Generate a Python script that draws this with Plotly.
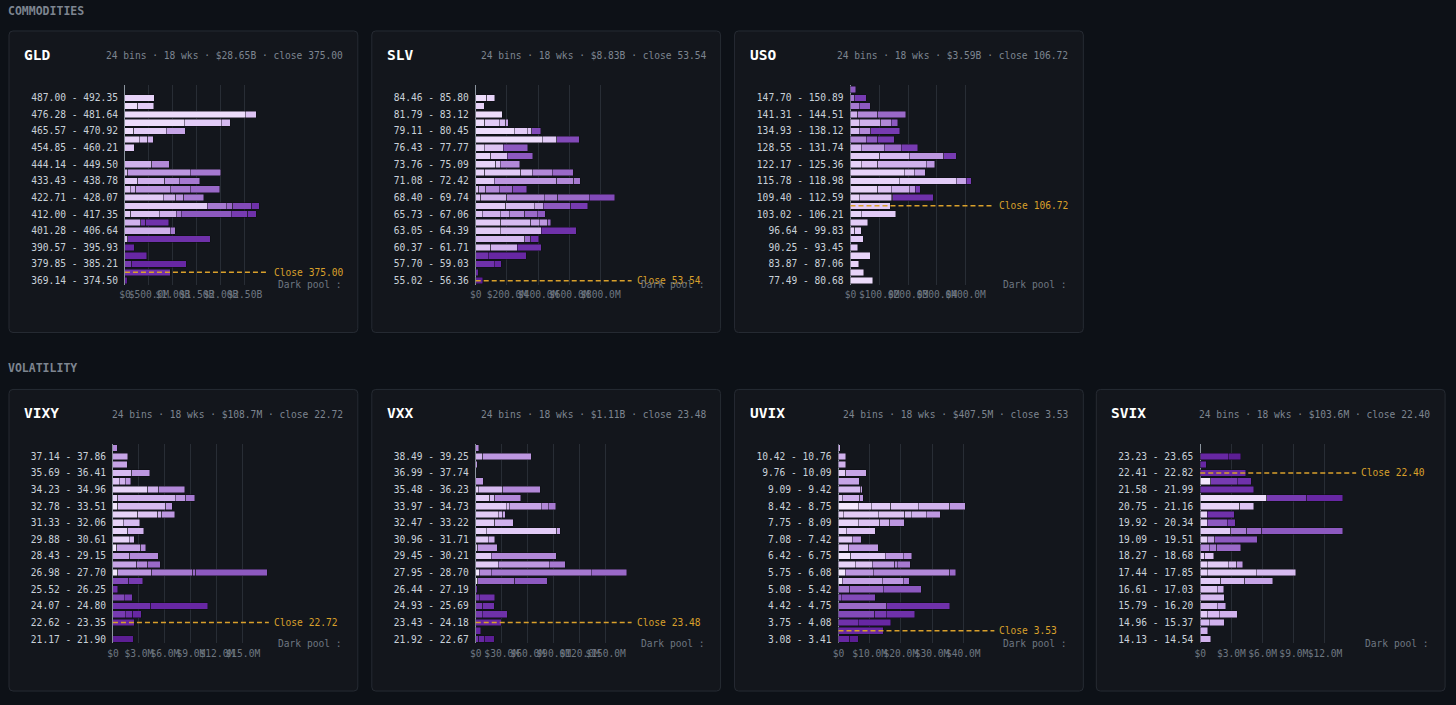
import plotly.graph_objects as go

W, H = 1456, 705
BG = "#0d1117"
PANEL_BG = "#13161c"
PANEL_BORDER = "#262b33"
GRID = "#282d35"
FONT = "DejaVu Sans Mono"
ORANGE = "#d9a02b"

# ---------------- data (values in $M, bins listed top -> bottom, 24 each) ----------------
# each bin: list of (week index 0..17, dollar value in $M)
gld_labels = ["369.14 - 374.50", "379.85 - 385.21", "390.57 - 395.93", "401.28 - 406.64",
              "412.00 - 417.35", "422.71 - 428.07", "433.43 - 438.78", "444.14 - 449.50",
              "454.85 - 460.21", "465.57 - 470.92", "476.28 - 481.64", "487.00 - 492.35"]
gld_bins = [
    [],
    [(2, 613)],
    [(1, 264), (3, 334)],
    [(1, 2506), (4, 230)],
    [(1, 1239), (3, 766), (5, 188)],
    [(1, 181), (3, 675), (7, 404)],
    [(2, 299), (4, 174), (6, 118)],
    [(3, 195)],
    [],
    [(6, 557), (9, 369)],
    [(4, 56), (8, 1308), (10, 633)],
    [(3, 264), (6, 571), (8, 299), (10, 425)],
    [(4, 111), (6, 118), (8, 717), (10, 418), (11, 612)],
    [(3, 800), (6, 264), (8, 160), (10, 418)],
    [(3, 1712), (10, 397), (11, 139), (13, 397), (15, 160)],
    [(3, 125), (4, 592), (6, 348), (10, 104), (12, 1044), (14, 348), (15, 174)],
    [(6, 334), (14, 104), (15, 473)],
    [(6, 940), (10, 111)],
    [(4, 56), (15, 1726)],
    [(16, 195)],
    [(16, 459)],
    [(14, 139), (16, 1134)],
    [(15, 940)],
    [(17, 49)],
]

slv_labels = ["55.02 - 56.36", "57.70 - 59.03", "60.37 - 61.71", "63.05 - 64.39",
              "65.73 - 67.06", "68.40 - 69.74", "71.08 - 72.42", "73.76 - 75.09",
              "76.43 - 77.77", "79.11 - 80.45", "81.79 - 83.12", "84.46 - 85.80"]
slv_bins = [
    [],
    [(1, 71), (2, 51)],
    [(2, 54)],
    [(1, 169)],
    [(1, 58), (3, 92), (5, 43), (7, 15)],
    [(1, 246), (3, 86), (4, 26), (13, 60)],
    [(1, 428), (3, 92), (13, 143)],
    [(2, 54), (4, 124), (12, 156)],
    [(2, 96), (4, 107), (12, 163)],
    [(2, 128), (4, 28), (9, 126)],
    [(2, 58), (3, 231), (5, 75), (9, 128), (11, 133)],
    [(3, 118), (8, 403), (9, 107), (10, 41)],
    [(4, 21), (7, 43), (9, 86), (11, 86), (13, 92)],
    [(4, 32), (6, 167), (9, 240), (10, 86), (11, 203), (13, 163)],
    [(3, 193), (5, 182), (7, 58), (12, 178), (14, 107)],
    [(4, 43), (6, 113), (7, 58), (9, 101), (11, 81), (12, 49)],
    [(3, 161), (5, 193), (7, 54), (8, 54), (11, 19)],
    [(3, 156), (5, 265), (15, 223)],
    [(5, 315), (11, 39), (15, 49)],
    [(4, 96), (6, 171), (15, 152)],
    [(15, 79), (16, 244)],
    [(15, 118), (16, 45)],
    [(16, 15)],
    [(17, 45)],
]

uso_labels = ["77.49 - 80.68", "83.87 - 87.06", "90.25 - 93.45", "96.64 - 99.83",
              "103.02 - 106.21", "109.40 - 112.59", "115.78 - 118.98", "122.17 - 125.36",
              "128.55 - 131.74", "134.93 - 138.12", "141.31 - 144.51", "147.70 - 150.89"]
uso_bins = [
    [(12, 18.5)],
    [(10, 14), (14, 40)],
    [(10, 31), (12, 37)],
    [(6, 25), (9, 69), (11, 98)],
    [(4, 31), (6, 75), (9, 35), (12, 24)],
    [(5, 31), (9, 40), (14, 101)],
    [(9, 54), (12, 40), (14, 58)],
    [(5, 37), (8, 81), (11, 58), (14, 58)],
    [(3, 101), (5, 104), (8, 119), (14, 44)],
    [(2, 37), (4, 58), (6, 168), (8, 30)],
    [(2, 187), (4, 35), (7, 38)],
    [(2, 170), (3, 197), (7, 35), (14, 17)],
    [(2, 95), (4, 46), (6, 64), (8, 20), (14, 17)],
    [(2, 31), (4, 110), (7, 6), (15, 140)],
    [(3, 139)],
    [(2, 37), (3, 120)],
    [(3, 60)],
    [(2, 14), (3, 23)],
    [(3, 44)],
    [(3, 25)],
    [(2, 69)],
    [(2, 28)],
    [(2, 46)],
    [(1, 77)],
]

vixy_labels = ["21.17 - 21.90", "22.62 - 23.35", "24.07 - 24.80", "25.52 - 26.25",
               "26.98 - 27.70", "28.43 - 29.15", "29.88 - 30.61", "31.33 - 32.06",
               "32.78 - 33.51", "34.23 - 34.96", "35.69 - 36.41", "37.14 - 37.86"]
vixy_bins = [
    [(9, 0.5)],
    [(7, 1.69)],
    [(7, 1.65)],
    [(5, 2.19), (8, 2.04)],
    [(4, 0.73), (6, 0.69), (8, 0.62)],
    [(2, 4.0), (6, 1.27), (9, 3.0)],
    [(2, 0.54), (6, 6.65), (8, 1.23), (10, 1.0)],
    [(0, 0.54), (5, 5.58), (8, 0.73)],
    [(2, 2.85), (4, 2.31), (6, 0.5), (8, 1.46)],
    [(2, 1.19), (5, 1.88)],
    [(2, 1.69), (6, 1.85)],
    [(2, 1.88), (5, 0.58)],
    [(0, 0.46), (7, 2.77), (9, 0.54)],
    [(7, 1.96), (9, 3.27)],
    [(7, 2.73), (9, 1.27), (11, 1.46)],
    [(0, 0.54), (8, 3.96), (10, 4.69), (11, 0.38), (12, 8.23)],
    [(13, 1.81), (14, 1.65)],
    [(15, 0.54)],
    [(13, 1.31), (14, 0.92)],
    [(15, 4.38), (16, 6.54)],
    [(14, 1.42), (15, 0.85), (16, 1.0)],
    [(16, 2.46)],
    [],
    [(17, 2.35)],
]

vxx_labels = ["21.92 - 22.67", "23.43 - 24.18", "24.93 - 25.69", "26.44 - 27.19",
              "27.95 - 28.70", "29.45 - 30.21", "30.96 - 31.71", "32.47 - 33.22",
              "33.97 - 34.73", "35.48 - 36.23", "36.99 - 37.74", "38.49 - 39.25"]
vxx_bins = [
    [(9, 3.5)],
    [(6, 8.1), (8, 56.2)],
    [(8, 1.9)],
    [],
    [(8, 8.5)],
    [(2, 2.7), (5, 28.5), (9, 43.1)],
    [(3, 16.2), (5, 5.8), (9, 30.0)],
    [(3, 35.4), (5, 3.5), (7, 36.5), (9, 8.1), (10, 8.8)],
    [(3, 25.8), (5, 5.4), (7, 3.1)],
    [(3, 21.9), (6, 21.2)],
    [(2, 11.9), (3, 81.9), (7, 3.8)],
    [(3, 14.2), (6, 7.7)],
    [(3, 2.3), (8, 22.7)],
    [(3, 18.1), (9, 74.6)],
    [(3, 25.8), (8, 59.2), (10, 18.1)],
    [(0, 4.2), (9, 13.8), (10, 115.4), (11, 40.8)],
    [(0, 2.3), (11, 42.7), (12, 37.7)],
    [(15, 1.5)],
    [(14, 4.2), (15, 17.7)],
    [(14, 8.1), (15, 13.1)],
    [(14, 7.3), (15, 29.2)],
    [(16, 29.2)],
    [(16, 5.8)],
    [(15, 3.5), (16, 6.9), (17, 10.8)],
]

uvix_labels = ["3.08 - 3.41", "3.75 - 4.08", "4.42 - 4.75", "5.08 - 5.42",
               "5.75 - 6.08", "6.42 - 6.75", "7.08 - 7.42", "7.75 - 8.09",
               "8.42 - 8.75", "9.09 - 9.42", "9.76 - 10.09", "10.42 - 10.76"]
uvix_bins = [
    [(6, 0.5)],
    [(6, 2.35)],
    [(6, 2.35)],
    [(3, 2.35), (7, 6.62)],
    [(7, 6.6)],
    [(5, 7.16), (7, 0.43)],
    [(3, 1.17), (6, 5.66), (8, 1.07)],
    [(0, 6.3), (2, 4.27), (3, 6.19), (4, 8.76), (6, 10.15), (8, 5.02)],
    [(2, 1.5), (3, 11.2), (4, 8.54), (5, 2.14), (6, 4.81), (8, 4.49)],
    [(2, 6.3), (4, 6.94), (6, 3.2), (8, 4.59)],
    [(2, 2.56), (4, 9.29)],
    [(3, 4.49), (8, 2.78)],
    [(3, 3.31), (8, 9.5)],
    [(0, 3.95), (3, 11.1), (8, 5.66), (9, 2.78)],
    [(2, 5.45), (4, 5.34), (8, 7.26), (9, 0.85), (10, 4.17)],
    [(0, 2.24), (8, 8.86), (9, 24.56), (11, 1.92)],
    [(0, 1.17), (7, 12.8), (8, 6.73), (10, 1.92)],
    [(10, 3.63), (11, 10.7), (12, 12.2)],
    [(12, 0.96), (13, 10.9)],
    [(11, 15.4), (15, 20.3)],
    [(13, 11.6), (14, 3.74), (15, 9.18)],
    [(15, 6.3), (16, 10.4)],
    [(16, 14.3)],
    [(16, 3.63), (17, 2.67)],
]

svix_labels = ["14.13 - 14.54", "14.96 - 15.37", "15.79 - 16.20", "16.61 - 17.03",
               "17.44 - 17.85", "18.27 - 18.68", "19.09 - 19.51", "19.92 - 20.34",
               "20.75 - 21.16", "21.58 - 21.99", "22.41 - 22.82", "23.23 - 23.65"]
svix_bins = [
    [],
    [(16, 2.69), (17, 1.22)],
    [(16, 0.58)],
    [(16, 4.39)],
    [(0, 0.99), (14, 2.56), (15, 1.38)],
    [(15, 5.16)],
    [(1, 6.38), (14, 3.85), (16, 3.46)],
    [(2, 3.81), (4, 1.35)],
    [(2, 0.67), (15, 2.6)],
    [(2, 0.67), (12, 1.92), (14, 0.77)],
    [(3, 2.92), (10, 1.54), (11, 1.44), (12, 7.79)],
    [(2, 0.67), (7, 0.74), (12, 4.07)],
    [(9, 0.87), (10, 0.71), (11, 2.34)],
    [(2, 0.45), (4, 0.83)],
    [(2, 0.67), (3, 2.02), (5, 0.8), (8, 0.58)],
    [(2, 0.67), (3, 4.74), (5, 3.78)],
    [(3, 1.96), (5, 2.34), (7, 2.66)],
    [(4, 1.63), (6, 0.64)],
    [(5, 2.31)],
    [(5, 1.63), (7, 0.83)],
    [(3, 0.67), (5, 1.15), (6, 1.73)],
    [(5, 0.87), (6, 1.44)],
    [(6, 0.71)],
    [(6, 1.03)],
]

names = ["GLD", "SLV", "USO", "VIXY", "VXX", "UVIX", "SVIX"]
totals = ["$28.65B", "$8.83B", "$3.59B", "$108.7M", "$1.11B", "$407.5M", "$103.6M"]
closes = [375.00, 53.54, 106.72, 22.72, 23.48, 3.53, 22.40]
close_bins = [1, 0, 9, 2, 2, 1, 20]          # bin index (from bottom) holding the close
axis_max = [3000, 1000, 500, 18, 180, 50, 15]  # $M
axis_step = [500, 200, 100, 3, 30, 10, 3]
n_bins = 24
n_weeks = 18

all_bins = [gld_bins, slv_bins, uso_bins, vixy_bins, vxx_bins, uvix_bins, svix_bins]
all_labels = [gld_labels, slv_labels, uso_labels, vixy_labels, vxx_labels, uvix_labels, svix_labels]

# ---------------- layout geometry (px) ----------------
panel_pos = [(8, 31), (371, 31), (734, 31), (8, 390), (371, 390), (734, 390), (1096, 390)]
PW, PH = 349, 302


def fx(x):
    return (x - 5 + 0.0035 * x) / W


def fy(y):
    return 1 - y / H


stops = [(0, (243, 231, 253)), (1, (237, 220, 251)), (2, (231, 211, 248)), (4, (221, 195, 243)),
         (6, (208, 177, 236)), (8, (189, 151, 224)), (10, (166, 121, 208)), (12, (141, 89, 192)),
         (14, (119, 59, 177)), (16, (103, 39, 163)), (17, (92, 30, 148))]


def week_color(w):
    for (a, ca), (b, cb) in zip(stops[:-1], stops[1:]):
        if a <= w <= b:
            t = (w - a) / (b - a)
            c = [round(ca[i] + (cb[i] - ca[i]) * t) for i in range(3)]
            return "rgb(%d,%d,%d)" % tuple(c)
    return "rgb(%d,%d,%d)" % stops[-1][1]


def fmt_money(v):
    if v == 0:
        return "$0"
    if v >= 1000:
        return "${:.2f}B".format(v / 1000)
    return "${:.1f}M".format(v)


fig = go.Figure()
layout = dict(
    width=W, height=H, margin=dict(l=0, r=0, t=0, b=0),
    paper_bgcolor=BG, plot_bgcolor="rgba(0,0,0,0)",
    barmode="stack", bargap=0.2, showlegend=False,
    font=dict(family=FONT, color="#c9d1d9", size=10),
)
shapes = []
annotations = []


def rounded(l, t, r, b, rad=4):
    rx, ry = rad / W, rad / H
    x0, x1, y0, y1 = fx(l), fx(r), fy(b), fy(t)
    return (f"M{x0+rx},{y1} L{x1-rx},{y1} Q{x1},{y1} {x1},{y1-ry} L{x1},{y0+ry} "
            f"Q{x1},{y0} {x1-rx},{y0} L{x0+rx},{y0} Q{x0},{y0} {x0},{y0+ry} "
            f"L{x0},{y1-ry} Q{x0},{y1} {x0+rx},{y1} Z")


for txt, y in [("COMMODITIES", 11), ("VOLATILITY", 369)]:
    annotations.append(dict(text="<b>" + txt + "</b>", x=fx(5), y=fy(y), xref="paper", yref="paper",
                            xanchor="left", yanchor="middle", showarrow=False,
                            font=dict(family=FONT, size=11.5, color="#7d8590")))

for p in range(7):
    n = p + 1
    xa = "x" if n == 1 else f"x{n}"
    ya = "y" if n == 1 else f"y{n}"
    pl, pt = panel_pos[p]
    shapes.append(dict(type="path", path=rounded(pl, pt, pl + PW, pt + PH), xref="paper", yref="paper",
                       fillcolor=PANEL_BG, line=dict(color=PANEL_BORDER, width=1), layer="below"))

    labels = all_labels[p]
    nchar = max(len(s) for s in labels)
    left = pl + 26 + 6 * nchar
    right = pl + 260
    top = pt + 54.5
    bottom = pt + 254.2

    bins = all_bins[p][::-1]  # bottom -> top
    for w in range(n_weeks):
        xs = []
        has = False
        for b in bins:
            v = None
            for (wk, val) in b:
                if wk == w:
                    v = val
                    has = True
            xs.append(v)
        if not has:
            continue
        fig.add_trace(go.Bar(
            x=xs, y=list(range(n_bins)), orientation="h", xaxis=xa, yaxis=ya,
            marker=dict(color=week_color(w), line=dict(color="rgba(10,12,18,0.65)", width=0.7)),
            hoverinfo="skip", showlegend=False,
        ))

    tv = list(range(0, axis_max[p] + 1, axis_step[p]))
    tt = [fmt_money(v) for v in tv]
    tt[-1] = ""
    layout["xaxis" if n == 1 else f"xaxis{n}"] = dict(
        domain=[fx(left), fx(right)], anchor=ya, range=[0, axis_max[p]],
        tickvals=tv, ticktext=tt, tickangle=0, ticks="", showgrid=True, gridcolor=GRID, gridwidth=1,
        zeroline=True, zerolinecolor="#8b949e", zerolinewidth=1, showline=False,
        tickfont=dict(family=FONT, size=9.6, color="#6e7681"), ticklabelstandoff=3, fixedrange=True,
    )
    layout["yaxis" if n == 1 else f"yaxis{n}"] = dict(
        domain=[fy(bottom), fy(top)], anchor=xa, range=[-0.5, n_bins - 0.5],
        tickvals=list(range(0, n_bins, 2)), ticktext=labels, ticks="", showgrid=False,
        zeroline=False, showline=False, tickfont=dict(family=FONT, size=9.6, color="#c9d1d9"),
        ticklabelstandoff=6, fixedrange=True,
    )

    # close line + label
    shapes.append(dict(type="line", xref=f"{xa} domain", yref=ya, x0=0, x1=1,
                       y0=close_bins[p], y1=close_bins[p],
                       line=dict(color=ORANGE, width=1.5, dash="5px,3px"), layer="above"))
    annotations.append(dict(text="Close {:.2f}".format(closes[p]), xref=f"{xa} domain", yref=ya,
                            x=1, y=close_bins[p], xanchor="left", yanchor="middle", xshift=3,
                            showarrow=False, font=dict(family=FONT, size=9.6, color=ORANGE)))
    annotations.append(dict(text="Dark pool :", x=fx(pl + PW - 14), y=fy(pt + 254), xref="paper",
                            yref="paper", xanchor="right", yanchor="middle", showarrow=False,
                            font=dict(family=FONT, size=9.6, color="#6e7681")))
    # title + subtitle
    annotations.append(dict(text="<b>" + names[p] + "</b>", x=fx(pl + 13), y=fy(pt + 24), xref="paper",
                            yref="paper", xanchor="left", yanchor="middle", showarrow=False,
                            font=dict(family=FONT, size=14.5, color="#ffffff")))
    sub = "{} bins · {} wks · {} · close {:.2f}".format(n_bins, n_weeks, totals[p], closes[p])
    annotations.append(dict(text=sub, x=fx(pl + PW - 13), y=fy(pt + 25), xref="paper", yref="paper",
                            xanchor="right", yanchor="middle", showarrow=False,
                            font=dict(family=FONT, size=9.6, color="#7d8590")))

layout["shapes"] = shapes
layout["annotations"] = annotations
fig.update_layout(**layout)
fig.write_html(
    "out.html",
    config={"displayModeBar": False},
    post_script="document.body.style.margin='0px';document.body.style.padding='0px';"
                "document.body.style.overflow='hidden';document.body.style.background='" + BG + "';",
)
